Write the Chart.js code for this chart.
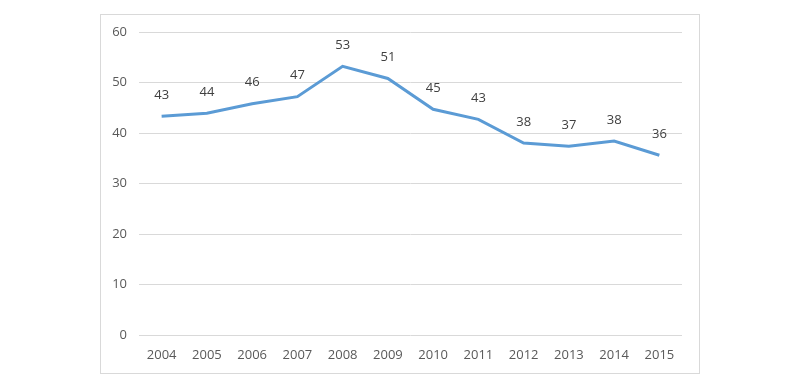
<!DOCTYPE html>
<html>
<head>
<meta charset="utf-8">
<script src="https://cdn.jsdelivr.net/npm/chart.js@4/dist/chart.umd.min.js"></script>
<style>
  html, body { margin: 0; padding: 0; background: #fff; }
  #wrap { position: relative; width: 800px; height: 384px; }
  #frame { position: absolute; left: 100px; top: 14px; width: 598px; height: 358px; border: 1px solid #d9d9d9; }
  canvas { position: absolute; left: 0; top: 0; }
</style>
</head>
<body>
<div id="wrap">
  <div id="frame"></div>
  <canvas id="lineChart" width="800" height="384"></canvas>
</div>
<script>
const years = ["2004", "2005", "2006", "2007", "2008", "2009", "2010", "2011", "2012", "2013", "2014", "2015"];
const values = [43.3, 43.9, 45.8, 47.2, 53.2, 50.8, 44.7, 42.7, 38.0, 37.4, 38.4, 35.6];
const yTicks = [0, 10, 20, 30, 40, 50, 60];

const ctx = document.getElementById("lineChart").getContext("2d");

// draws the rounded value above each point
const valueLabels = {
  id: "valueLabels",
  afterDatasetsDraw(chart) {
    const meta = chart.getDatasetMeta(0);
    const c = chart.ctx;
    c.save();
    c.font = "13px 'Open Sans'";
    c.fillStyle = "#404040";
    c.textAlign = "center";
    c.textBaseline = "middle";
    meta.data.forEach((pt, i) => {
      c.fillText(Math.round(values[i]), pt.x, pt.y - 21);
    });
    c.restore();
  }
};

new Chart(ctx, {
  type: "line",
  data: {
    labels: years,
    datasets: [{
      data: values,
      borderColor: "#5b9bd5",
      borderWidth: 3,
      pointRadius: 0,
      tension: 0,
      fill: false
    }]
  },
  options: {
    responsive: false,
    animation: false,
    layout: { padding: { left: 0, top: 32, right: 118, bottom: 0 } },
    plugins: { legend: { display: false }, tooltip: { enabled: false } },
    scales: {
      x: {
        offset: true,
        grid: { display: false, drawTicks: false },
        border: { display: false },
        ticks: { color: "#595959", font: { family: "Open Sans", size: 13 }, padding: 12, maxRotation: 0 },
        afterFit(scale) { scale.height = 49; }
      },
      y: {
        min: 0,
        max: 60,
        afterBuildTicks(scale) { scale.ticks = yTicks.map(v => ({ value: v })); },
        grid: { color: "#d9d9d9", drawTicks: false },
        border: { display: false },
        ticks: { color: "#595959", font: { family: "Open Sans", size: 13 }, padding: 12 },
        afterFit(scale) { scale.width = 139; }
      }
    }
  },
  plugins: [valueLabels]
});
</script>
</body>
</html>
